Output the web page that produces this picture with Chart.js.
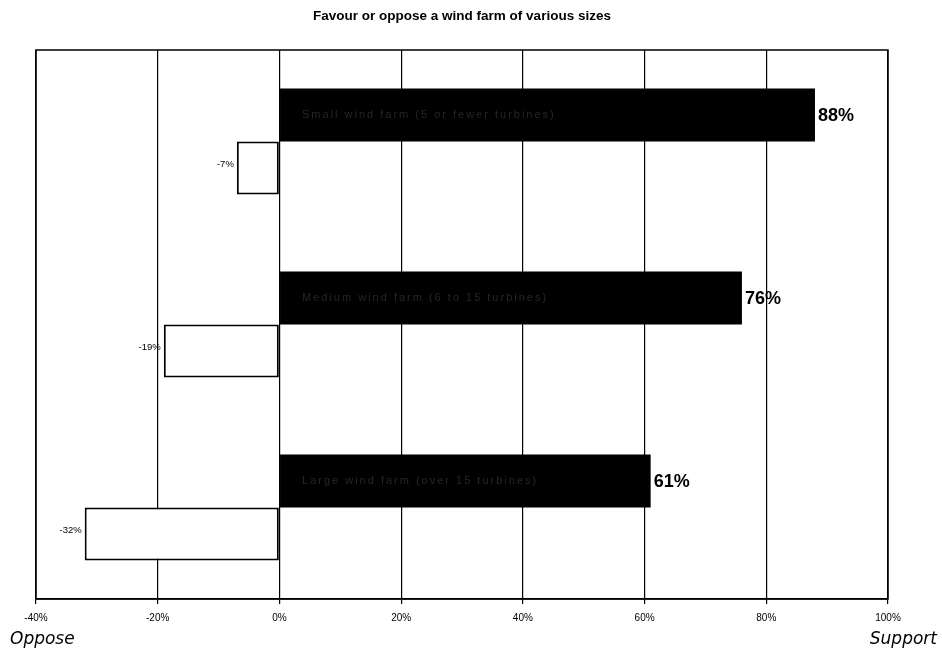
<!DOCTYPE html>
<html>
<head>
<meta charset="utf-8">
<script src="https://cdn.jsdelivr.net/npm/chart.js@4/dist/chart.umd.min.js"></script>
<style>
  html, body { margin: 0; padding: 0; background: #fff; }
  #wrap { width: 942px; height: 659px; }
</style>
</head>
<body>
<div id="wrap"><canvas id="c" width="942" height="659"></canvas></div>
<script>
// Wind farm size categories (written inside the support bars)
const categories = ['Small wind farm (5 or fewer turbines)', 'Medium wind farm (6 to 15 turbines)', 'Large wind farm (over 15 turbines)'];
// Share in favour / against, in percent
const support = [88, 76, 61];
const oppose = [-7, -19, -32];
// Axis ticks
const tickValues = [-40, -20, 0, 20, 40, 60, 80, 100];
const tickLabels = ['-40%', '-20%', '0%', '20%', '40%', '60%', '80%', '100%'];

// Value labels and the text inside the black bars
const barLabels = {
  id: 'barLabels',
  afterDatasetsDraw(chart) {
    const ctx = chart.ctx;
    ctx.save();
    const supMeta = chart.getDatasetMeta(0);
    supMeta.data.forEach((bar, i) => {
      ctx.textBaseline = 'middle';
      ctx.fillStyle = '#000';
      ctx.textAlign = 'left';
      ctx.letterSpacing = '0px';
      ctx.font = 'bold 18px "Liberation Sans", Arial, sans-serif';
      ctx.fillText(support[i] + '%', bar.x + 3, bar.y + 1);
      ctx.fillStyle = '#262626';
      ctx.letterSpacing = '2px';
      ctx.font = '11px "Liberation Sans", Arial, sans-serif';
      ctx.fillText(categories[i], bar.base + 22, bar.y);
    });
    ctx.letterSpacing = '0px';
    const oppMeta = chart.getDatasetMeta(1);
    oppMeta.data.forEach((bar, i) => {
      ctx.textBaseline = 'middle';
      ctx.textAlign = 'right';
      ctx.fillStyle = '#000';
      ctx.font = '9.5px "Liberation Sans", Arial, sans-serif';
      ctx.fillText(oppose[i] + '%', bar.x - 3, bar.y - 4);
    });
    ctx.restore();
  }
};

// Frame around the plot and the Oppose / Support captions
const frame = {
  id: 'frame',
  afterDraw(chart) {
    const { ctx, chartArea: a } = chart;
    ctx.save();
    ctx.strokeStyle = '#000';
    ctx.lineWidth = 1.5;
    ctx.strokeRect(a.left, a.top, a.right - a.left, a.bottom - a.top);
    ctx.fillStyle = '#000';
    ctx.font = 'italic 17px "DejaVu Sans", sans-serif';
    ctx.textBaseline = 'alphabetic';
    const yCap = chart.scales.x.bottom - 15;
    ctx.textAlign = 'left';
    ctx.fillText('Oppose', 10, yCap);
    ctx.textAlign = 'right';
    ctx.fillText('Support', chart.width - 5, yCap);
    ctx.restore();
  }
};

new Chart(document.getElementById('c'), {
  type: 'bar',
  data: {
    labels: categories,
    datasets: [
      {
        label: 'Support',
        data: support,
        backgroundColor: '#000',
        borderWidth: 0,
        categoryPercentage: 0.58,
        barPercentage: 1.0
      },
      {
        label: 'Oppose',
        data: oppose,
        backgroundColor: '#fff',
        borderColor: '#000',
        borderWidth: 2,
        borderSkipped: false,
        categoryPercentage: 0.58,
        barPercentage: 1.0
      }
    ]
  },
  options: {
    indexAxis: 'y',
    responsive: false,
    animation: false,
    layout: { padding: { left: 36, right: 54, top: 0, bottom: 0 } },
    plugins: {
      legend: { display: false },
      tooltip: { enabled: false },
      title: {
        display: true,
        text: 'Favour or oppose a wind farm of various sizes',
        color: '#000',
        font: { family: '"Liberation Sans", Arial, sans-serif', size: 13.5, weight: 'bold' },
        padding: { top: 8, bottom: 25.8 }
      }
    },
    scales: {
      x: {
        type: 'linear',
        min: -40,
        max: 100,
        afterBuildTicks(scale) {
          scale.ticks = tickValues.map(v => ({ value: v }));
        },
        afterFit(scale) { scale.height = 60; },
        ticks: {
          callback: (v) => tickLabels[tickValues.indexOf(v)],
          color: '#000',
          font: { family: '"Liberation Sans", Arial, sans-serif', size: 10 },
          padding: 8,
          maxRotation: 0
        },
        grid: { color: '#000', lineWidth: 1.2, tickLength: 5, drawTicks: true },
        border: { display: true, color: '#000', width: 1.5 }
      },
      y: {
        display: false
      }
    }
  },
  plugins: [barLabels, frame]
});
</script>
</body>
</html>
